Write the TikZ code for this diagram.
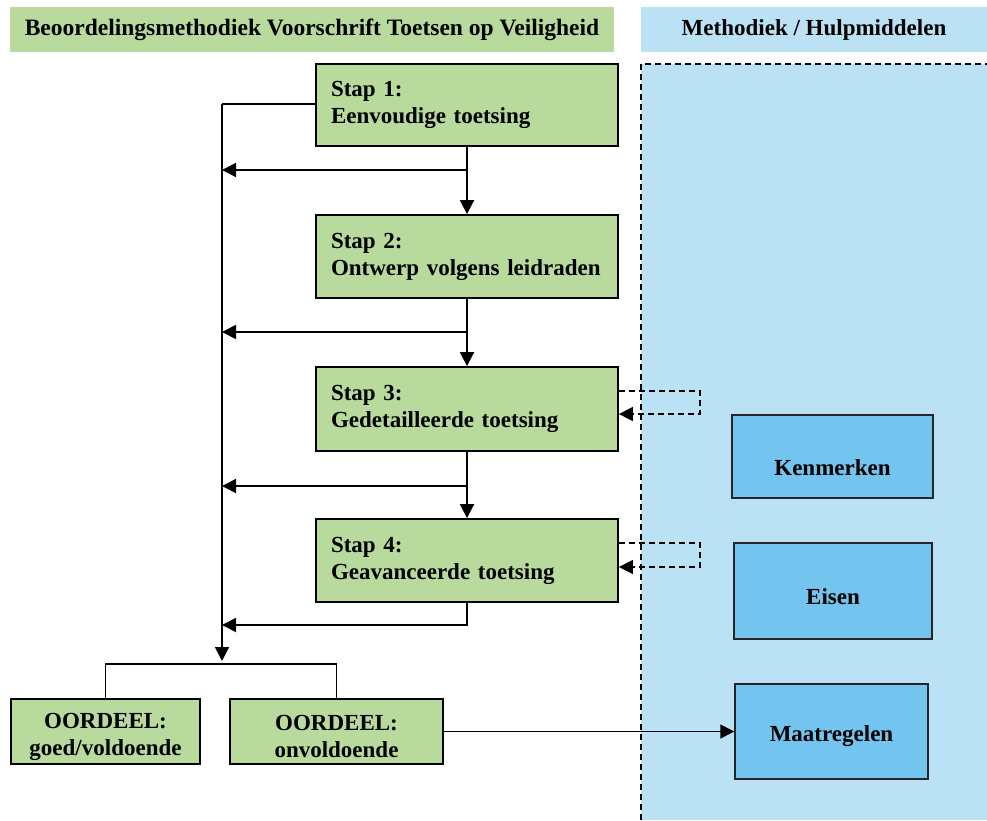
\documentclass[tikz,border=0pt]{standalone}
\usepackage{fontspec}
\setmainfont{Liberation Serif}
\usetikzlibrary{arrows.meta}
\definecolor{stepgreen}{HTML}{B8DA9C}
\definecolor{panelblue}{HTML}{BAE2F4}
\definecolor{toolblue}{HTML}{73C4EE}
\begin{document}
\begin{tikzpicture}[x=1pt,y=-1pt,
  every node/.style={font=\fontsize{23}{27}\selectfont\bfseries},
  stepbox/.style={draw=black,line width=1.8pt,fill=stepgreen,minimum width=302pt,
    text width=272pt,align=left,inner sep=0pt},
  verdict/.style={draw=black,line width=1.8pt,fill=stepgreen,inner sep=0pt},
  boxlabel/.style={inner sep=0pt,align=center},
  toolbox/.style={draw=black!85,line width=1.5pt,fill=toolblue,inner sep=0pt},
  header/.style={inner sep=0pt,align=center},
  conn/.style={line width=1.8pt},
  arr/.style={conn,-{Triangle[length=14pt,width=14pt]}},
  dasharr/.style={line width=1.5pt,dash pattern=on 6pt off 4pt,-{Triangle[length=14pt,width=14pt]}}]
\useasboundingbox (0,0) rectangle (987,820);

% headers and the tools panel
\node[header,fill=stepgreen,minimum width=604pt,minimum height=45pt,
  font=\fontsize{23.5}{27}\selectfont\bfseries] (h1) at (312,29.5)
  {Beoordelingsmethodiek Voorschrift Toetsen op Veiligheid};
\node[header,fill=panelblue,minimum width=346pt,minimum height=45pt] (h2) at (814,29.5)
  {Methodiek / Hulpmiddelen};
\fill[panelblue] (641,64) rectangle (987,820);
\draw[line width=1.5pt,dash pattern=on 6pt off 4pt] (641,820) -- (641,64) -- (987,64);

% assessment steps
\node[stepbox,minimum height=82pt] (s1) at (467,105) {Stap 1:\\Eenvoudige toetsing};
\node[stepbox,minimum height=83pt] (s2) at (467,256.5) {Stap 2:\\Ontwerp volgens leidraden};
\node[stepbox,minimum height=84pt] (s3) at (467,409) {Stap 3:\\Gedetailleerde toetsing};
\node[stepbox,minimum height=83pt] (s4) at (467,560.5) {Stap 4:\\Geavanceerde toetsing};

% verdicts, labels set a little below the middle
\node[verdict,minimum width=189pt,minimum height=65pt] (o1) at (105.5,731.5) {};
\node[boxlabel] (o1t) at ([yshift=-5pt]o1.center) {OORDEEL:\\goed/voldoende};
\node[verdict,minimum width=213pt,minimum height=65pt] (o2) at (336.5,731.5) {};
\node[boxlabel] (o2t) at ([yshift=-5pt]o2.center) {OORDEEL:\\onvoldoende};

% tools
\node[toolbox,minimum width=201pt,minimum height=83pt] (k) at (832.5,456.5) {};
\node[boxlabel] (kt) at ([yshift=-11pt]k.center) {Kenmerken};
\node[toolbox,minimum width=198pt,minimum height=96pt] (e) at (833,591) {};
\node[boxlabel] (et) at ([yshift=-6pt]e.center) {Eisen};
\node[toolbox,minimum width=193pt,minimum height=95pt] (m) at (831.5,731.5) {};
\node[boxlabel] (mt) at ([yshift=-5pt]m.center) {Maatregelen};

% left rail collecting all outcomes
\coordinate (railtop) at (222,104);
\coordinate (railend) at (222,661);
\draw[conn] (s1.west |- railtop) -- (railtop);
\draw[arr] (railtop) -- (railend);

% step to step, with a branch to the rail
\draw[arr] (s1.south) -- (s2.north);
\draw[arr] (s1.south |- 0,170) -- (railtop |- 0,170);
\draw[arr] (s2.south) -- (s3.north);
\draw[arr] (s2.south |- 0,332) -- (railtop |- 0,332);
\draw[arr] (s3.south) -- (s4.north);
\draw[arr] (s3.south |- 0,486) -- (railtop |- 0,486);
\draw[arr] (s4.south) -- (s4.south |- 0,625) -- (railtop |- 0,625);

% split into the two verdicts
\draw[conn] (o1.north) -- (o1.north |- 0,664) -- (o2.north |- 0,664) -- (o2.north);
\draw[arr,line width=1.5pt] (o2.east) -- (m.west);

% feedback loops from the tools panel
\draw[dasharr] (s3.east |- 0,391) -- (700,391) -- (700,414) -- (s3.east |- 0,414);
\draw[dasharr] (s4.east |- 0,543) -- (700,543) -- (700,567) -- (s4.east |- 0,567);
\end{tikzpicture}
\end{document}
